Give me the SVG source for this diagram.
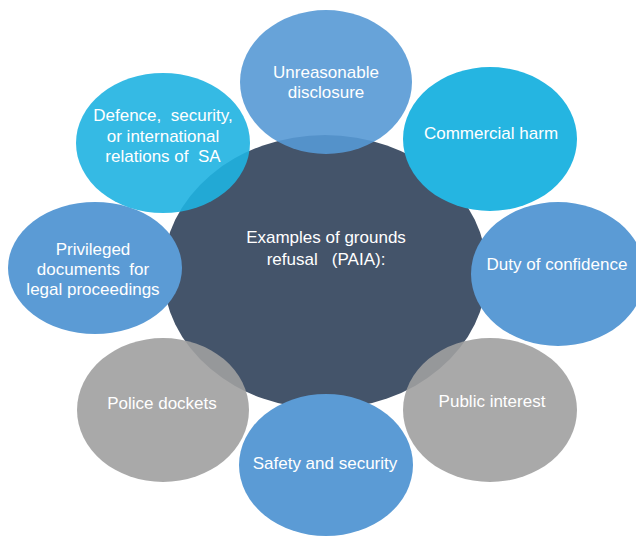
<svg xmlns="http://www.w3.org/2000/svg" width="636" height="536" viewBox="0 0 636 536">
<style>
  text { font-family: "Liberation Sans", Arial, sans-serif; font-size: 17px; fill: #FFFFFF; text-anchor: middle; white-space: pre; }
  .center { fill: #44546A; }
  .blue { fill: #5B9BD5; }
  .lblue { fill: #5699D5; fill-opacity: 0.9; }
  .cyan { fill: #25B5E1; }
  .cyan2 { fill: #1FB2E1; fill-opacity: 0.9; }
  .gray { fill: #A0A0A0; fill-opacity: 0.9; }
</style>
<rect width="636" height="536" fill="#FFFFFF"/>
<g id="center-node">
  <ellipse class="center" cx="325" cy="272" rx="162" ry="137"/>
  <text x="326" y="243">Examples of grounds</text>
  <text x="326" y="265" xml:space="preserve">refusal   (PAIA):</text>
</g>
<g id="unreasonable-disclosure">
  <ellipse class="lblue" cx="326" cy="82" rx="86" ry="72"/>
  <text x="326" y="78">Unreasonable</text>
  <text x="326" y="98">disclosure</text>
</g>
<g id="commercial-harm">
  <ellipse class="cyan" cx="490" cy="139" rx="87" ry="72"/>
  <text x="491" y="139">Commercial harm</text>
</g>
<g id="duty-of-confidence">
  <ellipse class="blue" cx="558" cy="274" rx="87" ry="72"/>
  <text x="557" y="270">Duty of confidence</text>
</g>
<g id="public-interest">
  <ellipse class="gray" cx="490" cy="410" rx="87" ry="72"/>
  <text x="492" y="407">Public interest</text>
</g>
<g id="safety-and-security">
  <ellipse class="blue" cx="326" cy="465" rx="87" ry="71"/>
  <text x="325" y="469">Safety and security</text>
</g>
<g id="police-dockets">
  <ellipse class="gray" cx="163" cy="410" rx="86" ry="72"/>
  <text x="162" y="409">Police dockets</text>
</g>
<g id="privileged-documents">
  <ellipse class="blue" cx="95" cy="268" rx="87" ry="66"/>
  <text x="93" y="255">Privileged</text>
  <text x="93" y="275" xml:space="preserve">documents  for</text>
  <text x="93" y="295">legal proceedings</text>
</g>
<g id="defence-security">
  <ellipse class="cyan2" cx="163" cy="143" rx="87" ry="70"/>
  <text x="163" y="121" xml:space="preserve">Defence,  security,</text>
  <text x="163" y="142">or international</text>
  <text x="163" y="162" xml:space="preserve">relations of  SA</text>
</g>
<g id="connectors"></g>
</svg>
